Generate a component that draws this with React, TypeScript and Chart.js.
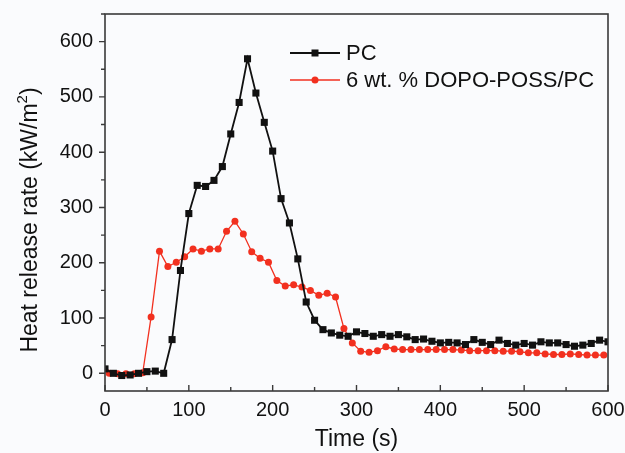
import React, { useEffect, useRef } from 'react';
import { Chart, registerables } from 'chart.js';

Chart.register(...registerables);

const pcTime = [0, 10, 20, 30, 40, 50, 60, 70, 80, 90, 100, 110, 120, 130, 140, 150, 160, 170, 180, 190, 200, 210, 220, 230, 240, 250, 260, 270, 280, 290, 300, 310, 320, 330, 340, 350, 360, 370, 380, 390, 400, 410, 420, 430, 440, 450, 460, 470, 480, 490, 500, 510, 520, 530, 540, 550, 560, 570, 580, 590, 600];
const pcHRR = [8, 0, -4, -3, 0, 3, 4, 0, 61, 186, 289, 340, 338, 349, 374, 433, 490, 569, 507, 454, 402, 316, 272, 207, 129, 96, 79, 73, 69, 67, 75, 72, 67, 70, 67, 70, 66, 61, 62, 58, 55, 56, 55, 52, 61, 56, 52, 60, 54, 51, 54, 51, 57, 55, 55, 52, 49, 51, 54, 60, 57];

const dopoTime = [5, 15, 25, 35, 45, 55, 65, 75, 85, 95, 105, 115, 125, 135, 145, 155, 165, 175, 185, 195, 205, 215, 225, 235, 245, 255, 265, 275, 285, 295, 305, 315, 325, 335, 345, 355, 365, 375, 385, 395, 405, 415, 425, 435, 445, 455, 465, 475, 485, 495, 505, 515, 525, 535, 545, 555, 565, 575, 585, 595];
const dopoHRR = [0, -1, -1, -1, 1, 102, 221, 193, 201, 211, 225, 221, 225, 225, 257, 275, 252, 220, 208, 201, 168, 158, 160, 156, 150, 141, 145, 138, 81, 55, 40, 38, 41, 48, 44, 43, 43, 43, 43, 43, 43, 43, 42, 41, 41, 41, 41, 40, 40, 39, 37, 37, 35, 34, 34, 35, 34, 33, 33, 33];

const seriesNames = ['PC', '6 wt. % DOPO-POSS/PC'];
const xTickValues = [0, 100, 200, 300, 400, 500, 600];
const yTickValues = [0, 100, 200, 300, 400, 500, 600];
const xMinorValues = [50, 150, 250, 350, 450, 550];
const yMinorValues = [-50, 50, 150, 250, 350, 450, 550, 650];
const xTitle = 'Time (s)';
const yTitleMain = 'Heat release rate (kW/m';
const yTitleSup = '2';
const yTitleEnd = ')';

const FONT = '"Liberation Sans", Arial, sans-serif';
const BLACK = '#111111';
const RED = '#f2301f';

const decorPlugin = {
  id: 'decor',
  afterDraw(chart: any) {
    const { ctx, chartArea } = chart;
    const { left, right, top, bottom } = chartArea;
    const xs = chart.scales.x;
    const ys = chart.scales.y;
    ctx.save();
    // frame
    ctx.strokeStyle = '#3a3a3a';
    ctx.lineWidth = 1.6;
    ctx.strokeRect(left, top, right - left, bottom - top);
    // x ticks (inward)
    ctx.lineWidth = 1.4;
    ctx.beginPath();
    xTickValues.forEach((v) => {
      const px = xs.getPixelForValue(v);
      ctx.moveTo(px, bottom);
      ctx.lineTo(px, bottom - 6);
    });
    xMinorValues.forEach((v) => {
      const px = xs.getPixelForValue(v);
      ctx.moveTo(px, bottom);
      ctx.lineTo(px, bottom - 4);
    });
    // y ticks (outward)
    yTickValues.forEach((v) => {
      const py = ys.getPixelForValue(v);
      ctx.moveTo(left, py);
      ctx.lineTo(left - 6, py);
    });
    yMinorValues.forEach((v) => {
      if (v < ys.min || v > ys.max) return;
      const py = ys.getPixelForValue(v);
      ctx.moveTo(left, py);
      ctx.lineTo(left - 4, py);
    });
    ctx.stroke();

    // axis titles
    ctx.fillStyle = '#111111';
    ctx.font = `23px ${FONT}`;
    ctx.textAlign = 'center';
    ctx.textBaseline = 'middle';
    ctx.fillText(xTitle, (left + right) / 2, 440);

    ctx.save();
    ctx.translate(31, 220);
    ctx.rotate(-Math.PI / 2);
    ctx.textAlign = 'left';
    ctx.font = `23px ${FONT}`;
    const wMain = ctx.measureText(yTitleMain).width;
    const wEnd = ctx.measureText(yTitleEnd).width;
    ctx.font = `15px ${FONT}`;
    const wSup = ctx.measureText(yTitleSup).width;
    const total = wMain + wSup + wEnd;
    let cx = -total / 2;
    ctx.font = `23px ${FONT}`;
    ctx.fillText(yTitleMain, cx, 0);
    cx += wMain;
    ctx.font = `15px ${FONT}`;
    ctx.fillText(yTitleSup, cx, -8);
    cx += wSup;
    ctx.font = `23px ${FONT}`;
    ctx.fillText(yTitleEnd, cx, 0);
    ctx.restore();

    // legend
    const items = [
      { label: seriesNames[0], color: BLACK, y: 53, style: 'rect', lw: 2 },
      { label: seriesNames[1], color: RED, y: 80, style: 'circle', lw: 1.3 },
    ];
    items.forEach((it) => {
      ctx.strokeStyle = it.color;
      ctx.lineWidth = it.lw;
      ctx.beginPath();
      ctx.moveTo(290, it.y);
      ctx.lineTo(340, it.y);
      ctx.stroke();
      ctx.fillStyle = it.color;
      if (it.style === 'rect') {
        ctx.fillRect(315 - 3.5, it.y - 3.5, 7, 7);
      } else {
        ctx.beginPath();
        ctx.arc(315, it.y, 3.5, 0, Math.PI * 2);
        ctx.fill();
      }
      ctx.fillStyle = '#111111';
      ctx.font = `22px ${FONT}`;
      ctx.textAlign = 'left';
      ctx.textBaseline = 'middle';
      ctx.fillText(it.label, 346, it.y + 1);
    });
    ctx.restore();
  },
};

const bgPlugin = {
  id: 'bg',
  beforeDraw(chart: any) {
    const { ctx, width, height } = chart;
    ctx.save();
    ctx.fillStyle = '#fafbfd';
    ctx.fillRect(0, 0, width, height);
    ctx.restore();
  },
};

export default function App() {
  const ref = useRef<HTMLCanvasElement | null>(null);
  useEffect(() => {
    if (!ref.current) return;
    const chart = new Chart(ref.current, {
      type: 'line',
      data: {
        datasets: [
          {
            label: seriesNames[0],
            data: pcTime.map((t, i) => ({ x: t, y: pcHRR[i] })),
            borderColor: BLACK,
            backgroundColor: BLACK,
            borderWidth: 1.8,
            pointStyle: 'rect',
            pointRadius: 5,
            pointBorderWidth: 0,
            tension: 0,
          },
          {
            label: seriesNames[1],
            data: dopoTime.map((t, i) => ({ x: t, y: dopoHRR[i] })),
            borderColor: RED,
            backgroundColor: RED,
            borderWidth: 1.3,
            pointStyle: 'circle',
            pointRadius: 3.5,
            pointBorderWidth: 0,
            tension: 0,
          },
        ],
      },
      options: {
        responsive: false,
        animation: false,
        devicePixelRatio: 1,
        layout: { padding: { left: 0, top: 14, right: 17, bottom: 0 } },
        plugins: {
          legend: { display: false },
          tooltip: { enabled: false },
        },
        scales: {
          x: {
            type: 'linear',
            min: 0,
            max: 600,
            grid: { display: false, drawTicks: false },
            border: { display: false },
            afterBuildTicks: (s: any) => {
              s.ticks = xTickValues.map((v) => ({ value: v }));
            },
            afterFit: (s: any) => {
              s.height = 62;
              s.paddingLeft = 0;
              s.paddingRight = 0;
            },
            ticks: {
              padding: 7,
              color: '#111111',
              font: { family: FONT, size: 20 },
              maxRotation: 0,
            },
          },
          y: {
            type: 'linear',
            min: -32,
            max: 650,
            grid: { display: false, drawTicks: false },
            border: { display: false },
            afterBuildTicks: (s: any) => {
              s.ticks = yTickValues.map((v) => ({ value: v }));
            },
            afterFit: (s: any) => {
              s.width = 105;
              s.paddingTop = 0;
              s.paddingBottom = 0;
            },
            ticks: {
              padding: 12,
              color: '#111111',
              font: { family: FONT, size: 20 },
            },
          },
        },
      },
      plugins: [bgPlugin, decorPlugin],
    });
    return () => chart.destroy();
  }, []);
  return (
    <div style={{ position: 'fixed', left: 0, top: 0, width: 625, height: 453 }}>
      <canvas ref={ref} width={625} height={453} />
    </div>
  );
}
